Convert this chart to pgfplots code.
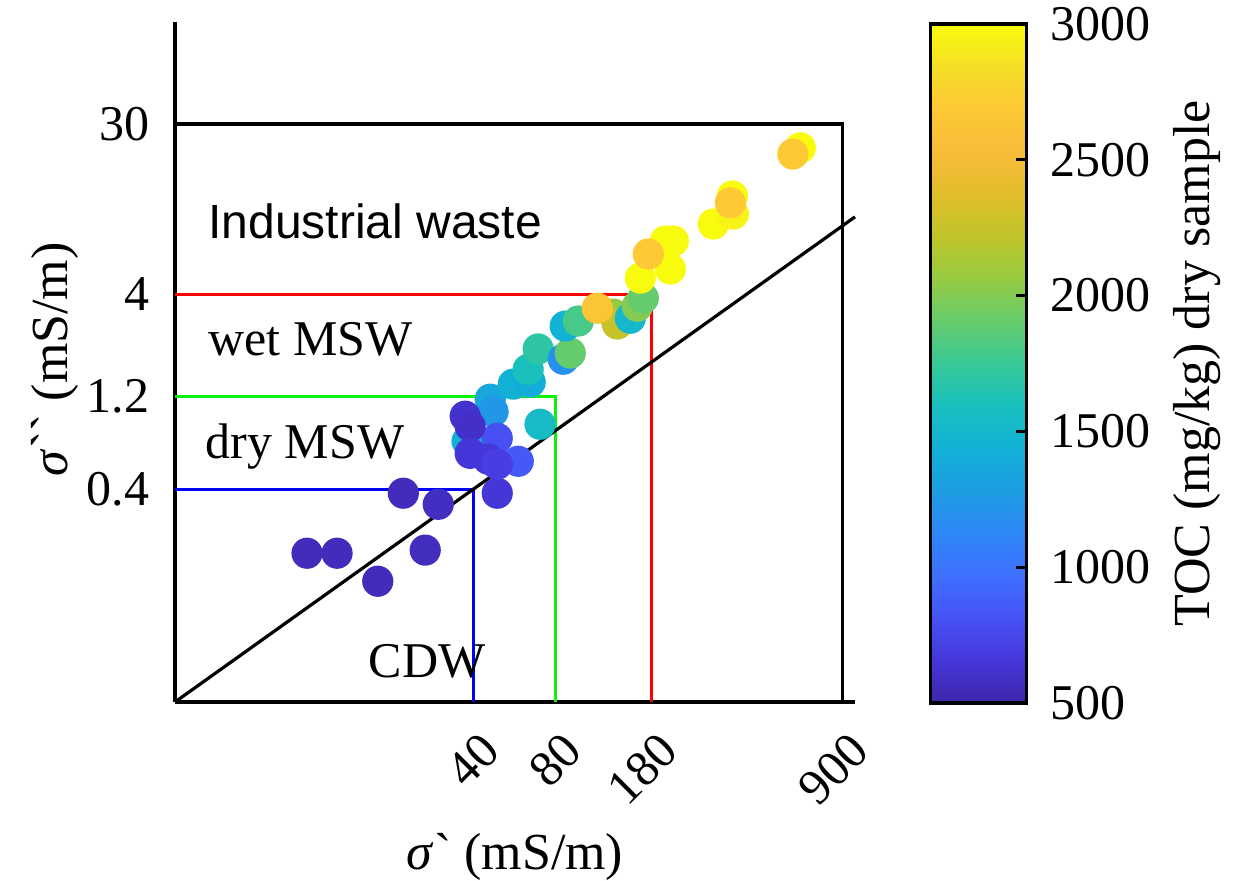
\documentclass[border=0pt]{standalone}
\usepackage{fontspec}
\setmainfont{Liberation Serif}
\newfontfamily\arialfont{Liberation Sans}
\usepackage{pgfplots}
\usepackage{pgfplotstable}
\pgfplotsset{compat=1.18}

\pgfplotsset{
  colormap={parula}{rgb=(0.2422,0.1504,0.6603) rgb=(0.2717,0.2123,0.8510) rgb=(0.2810,0.3228,0.9579) rgb=(0.2440,0.4358,0.9988) rgb=(0.1786,0.5289,0.9682) rgb=(0.1135,0.6142,0.8854) rgb=(0.0689,0.6948,0.8394) rgb=(0.0957,0.7502,0.7444) rgb=(0.2161,0.7843,0.5923) rgb=(0.4000,0.8000,0.4200) rgb=(0.5899,0.7964,0.2625) rgb=(0.7500,0.7700,0.1600) rgb=(0.8872,0.7420,0.1743) rgb=(0.9738,0.7384,0.2219) rgb=(0.9944,0.7816,0.2109) rgb=(0.9600,0.8754,0.1541) rgb=(0.9763,0.9831,0.0538)},
}

\pgfplotstableread{
x y c
9.86 0.188 560
12.7 0.188 560
17.9 0.135 560
26.7 0.195 570
22.2 0.382 560
29.8 0.335 580
49.0 0.382 650
58.5 0.557 850
46.2 1.16 1350
47.3 1.0 1250
38.0 0.706 1450
43.2 0.666 1400
70.3 0.863 1550
49.0 0.731 800
37.4 0.949 620
39.0 0.843 600
39.0 0.612 650
45.4 0.571 650
49.0 0.538 700
56.1 1.386 1450
64.7 1.42 1400
63.6 1.65 1600
69.2 2.10 1700
85.5 1.86 1200
90.7 2.00 1900
86.9 2.75 1450
97.0 2.92 1800
130.3 3.17 2050
134.8 2.82 2250
150.4 3.02 1500
159.6 3.48 2000
167.9 3.83 1900
113.9 3.40 2650
163.7 4.85 3000
202.1 7.52 3000
216.3 7.52 3000
210.9 5.40 3000
175.1 6.45 2700
302.9 9.19 3000
358.6 10.35 2950
355.6 12.8 3000
349.7 11.8 2700
630.6 22.6 3000
592.1 21.0 2700
}\pts

\begin{document}
\begin{tikzpicture}
\useasboundingbox (0,0) rectangle (312pt,220pt);
% colour bar (own host axis, so that the main axis styles do not leak into it)
\begin{axis}[
  at={(43.75pt,44.5pt)}, anchor=south west,
  scale only axis, width=170pt, height=170pt,
  hide axis, xmin=0, xmax=1, ymin=0, ymax=1,
  point meta min=500, point meta max=3000,
  colorbar,
  colorbar/width=24pt,
  colorbar style={
    at={(parent axis.south east)}, anchor=south west,
    xshift=10.25pt, yshift=-0.25pt,
    height=169.75pt,
    axis line style={line width=0.8pt, black},
    ytick={500,1000,1500,2000,2500,3000},
    yticklabels={500,1000,1500,2000,2500,3000},
    ytick pos=right, yticklabel pos=right,
    tick align=inside, major tick length=2.5pt,
    tick style={black, line width=0.8pt},
    every y tick label/.style={font=\fontsize{12.5}{15}\selectfont, inner sep=0pt, anchor=west, xshift=6pt},
    every axis y label/.style={font=\fontsize{13}{15.6}\selectfont, at={(axis description cs:1,0.5)}, rotate=90, anchor=center, yshift=-42.75pt},
    ylabel={TOC (mg/kg) dry sample},
  },
]
\addplot[draw=none] coordinates {(0.5,0.5)};
\end{axis}
\begin{axis}[
  at={(43.75pt,44.5pt)}, anchor=south west,
  scale only axis, width=170pt, height=170pt,
  xmode=log, ymode=log,
  xmin=3.24, xmax=1000, ymin=0.0324, ymax=100,
  axis x line=bottom, axis y line=left,
  axis line style={-, line width=0.8pt, black},
  xtick={40,80,180,900}, xticklabels={40,80,180,900},
  ytick={0.4,1.2,4,30}, yticklabels={0.4,1.2,4,30},
  major tick length=0pt, minor tick length=0pt,
  tick label style={font=\fontsize{12.5}{15}\selectfont, inner sep=0pt},
  xticklabel style={xshift=4.5pt, yshift=-10pt, rotate=45, anchor=east},
  yticklabel style={xshift=-6.25pt, anchor=east},
  xlabel={\textit{σ}\textasciigrave\ (mS/m)},
  ylabel={\textit{σ}\textasciigrave\textasciigrave\ (mS/m)},
  label style={font=\fontsize{13}{15.6}\selectfont},
  xlabel style={at={(axis description cs:0.5,0)}, anchor=center, yshift=-38.75pt},
  ylabel style={at={(axis description cs:0,0.504)}, anchor=center, yshift=30pt},
  point meta min=500, point meta max=3000,
  clip=false,
]
\addplot[scatter, only marks, mark=*, mark size=3.7pt, scatter src=explicit,
  scatter/use mapped color={draw=mapped color, fill=mapped color}]
  table[x=x, y=y, meta=c] {\pts};
\addplot[black, line width=0.8pt] coordinates {(3.24,30) (900,30) (900,0.0324)};
\addplot[red, line width=0.8pt] coordinates {(3.24,4) (180,4) (180,0.0324)};
\addplot[color={rgb,1:red,0.05;green,0.95;blue,0.05}, line width=0.8pt] coordinates {(3.24,1.2) (80,1.2) (80,0.0324)};
\addplot[blue, line width=0.8pt] coordinates {(3.24,0.4) (40,0.4) (40,0.0324)};
\addplot[black, line width=0.8pt] coordinates {(3.24,0.0324) (1000,10)};
\node[anchor=west, inner sep=0pt, font=\arialfont\fontsize{12}{14}\selectfont] at (axis cs:4.27,9.5) {Industrial waste};
\node[anchor=west, inner sep=0pt, font=\fontsize{12.5}{15}\selectfont] at (axis cs:4.27,2.36) {wet MSW};
\node[anchor=west, inner sep=0pt, font=\fontsize{12.5}{15}\selectfont] at (axis cs:4.17,0.665) {dry MSW};
\node[anchor=west, inner sep=0pt, font=\fontsize{12.5}{15}\selectfont] at (axis cs:16.5,0.0524) {CDW};
\end{axis}
\end{tikzpicture}
\end{document}
